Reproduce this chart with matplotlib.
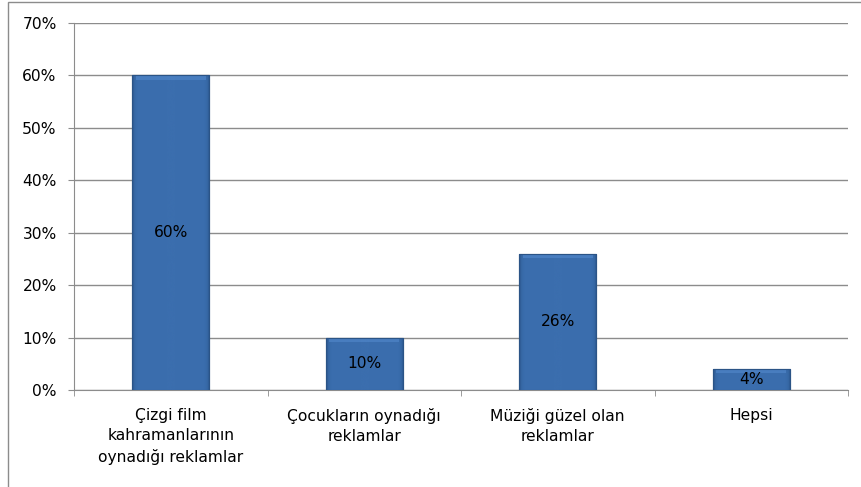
import numpy as np
import matplotlib.pyplot as plt
from matplotlib.patches import Rectangle
from matplotlib.colors import LinearSegmentedColormap
from matplotlib.ticker import MultipleLocator, PercentFormatter

# ----------------------------------------------------------
# Data
# ----------------------------------------------------------
categories = [
    "Çizgi film\nkahramanlarının\noynadığı reklamlar",
    "Çocukların oynadığı\nreklamlar",
    "Müziği güzel olan\nreklamlar",
    "Hepsi",
]
values = [60, 10, 26, 4]
value_labels = ["60%", "10%", "26%", "4%"]

plt.rcParams["font.family"] = ["DejaVu Sans"]
FS = 11.2

fig = plt.figure(figsize=(8.61, 4.87), dpi=100)
ax = fig.add_axes([74 / 861, 1 - 390 / 487, (848 - 74) / 861, (390 - 23) / 487])

# outer chart frame (gray)
fig.patches.append(Rectangle((8 / 861, -0.01), 1.0, 1 - 2 / 487 + 0.01,
                             transform=fig.transFigure, fill=False,
                             edgecolor="#8c8c8c", linewidth=1.0))

x = np.arange(len(categories))
bar_width = 0.4

bars = ax.bar(x, values, width=bar_width, color="#3a6cac",
              edgecolor="#2b5486", linewidth=0.8, zorder=3)

# soft bevel shading on each bar
grad = np.linspace(0, 1, 64)
shade = np.clip(1 - np.abs(grad - 0.5) * 2, 0, 0.85) / 0.85
cmap = LinearSegmentedColormap.from_list("bev", ["#2a5488", "#3a6dad", "#3b6eae"])
for b in bars:
    x0, y0 = b.get_x(), b.get_y()
    w, h = b.get_width(), b.get_height()
    img = ax.imshow(shade[np.newaxis, :] ** 0.35, cmap=cmap, vmin=0, vmax=1,
                    extent=[x0, x0 + w, y0, y0 + h], aspect="auto",
                    zorder=3.5, interpolation="bicubic")
    img.set_clip_path(b)
    # lighter bevel at the top
    top_h = min(0.8, h * 0.25)
    ax.add_patch(Rectangle((x0 + w * 0.05, y0 + h - top_h), w * 0.9, top_h,
                           facecolor="#4f85c8", edgecolor="none",
                           alpha=0.7, zorder=3.6))
    ax.add_patch(Rectangle((x0, y0), w, h, fill=False,
                           edgecolor="#2b5486", linewidth=0.8, zorder=3.7))

for xi, v, lab in zip(x, values, value_labels):
    ax.text(xi, v / 2, lab, ha="center", va="center",
            fontsize=FS, color="black", zorder=5)

ax.set_xlim(-0.5, len(categories) - 0.5)
ax.set_ylim(0, 70)
ax.yaxis.set_major_locator(MultipleLocator(10))
ax.yaxis.set_major_formatter(PercentFormatter(decimals=0))
ax.grid(axis="y", color="#8c8c8c", linewidth=1.0, zorder=0)

ax.set_xticks(x)
ax.set_xticklabels(categories, fontsize=FS, linespacing=1.45)
ax.set_xticks(np.arange(-0.5, len(categories)), minor=True)
ax.tick_params(axis="x", which="major", length=0, pad=13)
ax.tick_params(axis="x", which="minor", length=4.5, color="#8c8c8c")
ax.tick_params(axis="y", length=4.5, color="#8c8c8c", labelsize=FS, pad=8)

for side in ["top", "right"]:
    ax.spines[side].set_visible(False)
for side in ["left", "bottom"]:
    ax.spines[side].set_color("#8c8c8c")

fig.savefig("out.png", dpi=100)
